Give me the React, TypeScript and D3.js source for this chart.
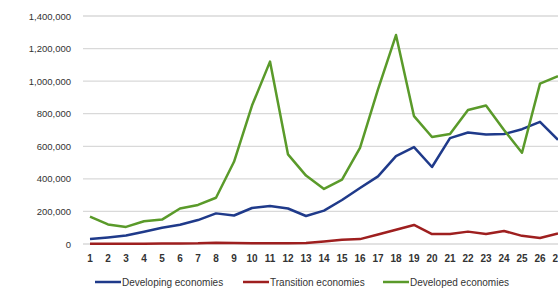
import React, { useRef, useEffect } from 'react';
import * as d3 from 'd3';

const periods = d3.range(1, 28);

const developing = [30000, 40000, 52000, 75000, 100000, 118000, 147000, 188000, 175000, 221000, 233000, 218000, 172000, 205000, 270000, 344000, 415000, 540000, 595000, 473000, 650000, 685000, 672000, 675000, 705000, 750000, 640000];
const transition = [2000, 2000, 2000, 2000, 3000, 3000, 4000, 8000, 6000, 5000, 5000, 5000, 6000, 15000, 26000, 30000, 58000, 88000, 117000, 61000, 61000, 76000, 62000, 80000, 50000, 37000, 65000];
const developed = [168000, 120000, 105000, 140000, 150000, 218000, 240000, 284000, 505000, 850000, 1120000, 550000, 420000, 338000, 395000, 590000, 950000, 1283000, 785000, 657000, 675000, 823000, 850000, 700000, 560000, 985000, 1030000];

const yTicks = [0, 200000, 400000, 600000, 800000, 1000000, 1200000, 1400000];

const series = [
    { name: 'Developing economies', values: developing, color: '#1f3a8a' },
    { name: 'Transition economies', values: transition, color: '#9e1f1f' },
    { name: 'Developed economies', values: developed, color: '#5a9a2a' },
];

const App = () => {
    const svgRef = useRef<SVGSVGElement | null>(null);

    useEffect(() => {
        const svg = d3.select(svgRef.current);
        svg.selectAll('*').remove();

        const font = '"Liberation Sans", Arial, sans-serif';

        const x = d3.scalePoint<number>().domain(periods).range([90, 558]);
        const y = d3.scaleLinear().domain([0, 1400000]).range([244, 16]);

        // gridlines
        svg.append('g')
            .selectAll('line')
            .data(yTicks)
            .enter()
            .append('line')
            .attr('x1', 83)
            .attr('x2', 558)
            .attr('y1', d => y(d))
            .attr('y2', d => y(d))
            .attr('stroke', '#d9d9d9')
            .attr('stroke-width', 1.3);

        // y labels
        svg.append('g')
            .selectAll('text')
            .data(yTicks)
            .enter()
            .append('text')
            .attr('x', 71)
            .attr('y', d => y(d) + 3.5)
            .attr('text-anchor', 'end')
            .attr('font-family', font)
            .attr('font-size', 9.5)
            .attr('fill', '#333')
            .text(d => d3.format(',')(d));

        // x labels
        svg.append('g')
            .selectAll('text')
            .data(periods)
            .enter()
            .append('text')
            .attr('x', d => x(d)!)
            .attr('y', 262)
            .attr('text-anchor', 'middle')
            .attr('font-family', font)
            .attr('font-size', 10)
            .attr('font-weight', 'bold')
            .attr('fill', '#333')
            .text(d => d);

        const line = d3.line<number>()
            .x((d, i) => x(periods[i])!)
            .y(d => y(d));

        series.forEach(s => {
            svg.append('path')
                .datum(s.values)
                .attr('d', line)
                .attr('fill', 'none')
                .attr('stroke', s.color)
                .attr('stroke-width', 2.5)
                .attr('stroke-linejoin', 'round');
        });

        // legend
        const legendX = [95, 243, 383];
        const legend = svg.append('g');
        series.forEach((s, i) => {
            legend.append('line')
                .attr('x1', legendX[i])
                .attr('x2', legendX[i] + 26)
                .attr('y1', 282)
                .attr('y2', 282)
                .attr('stroke', s.color)
                .attr('stroke-width', 2.5);
            legend.append('text')
                .attr('x', legendX[i] + 27)
                .attr('y', 285.5)
                .attr('font-family', font)
                .attr('font-size', 10)
                .attr('fill', '#333')
                .text(s.name);
        });
    }, []);

    return (
        <svg
            ref={svgRef}
            width={558}
            height={290}
            style={{ position: 'absolute', left: 0, top: 0, background: '#fff' }}
        />
    );
};

export default App;
